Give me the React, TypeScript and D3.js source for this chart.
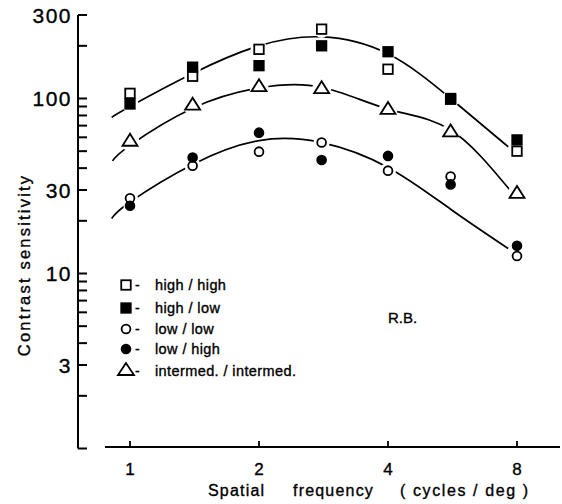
import React from "react";
import * as d3 from "d3";

// ---- data ----
const freqs = [1, 1.4, 2, 2.8, 4, 5.6, 8];
const highHigh = [107, 134, 191, 249, 147, 100, 50];
const highLow = [93, 151, 154, 200, 185, 99, 58];
const lowLow = [26.9, 41.3, 49.7, 56, 38.7, 35.8, 12.6];
const lowHigh = [24.4, 46, 63.8, 44.5, 47, 32.3, 14.4];
const intermed = [56.6, 91, 116, 113, 86, 64, 28.5];

// fitted curves: [frequency, sensitivity]
const curveHigh: [number, number][] = [[0.906, 78], [1, 90], [1.4, 139], [2, 200], [2.8, 225], [4, 180], [5.6, 100], [7.63, 53]];
const curveInter: [number, number][] = [[0.91, 44], [1, 54], [1.4, 88], [2, 115], [2.8, 116], [4, 87], [5.6, 66], [7.7, 30]];
const curveLow: [number, number][] = [[0.906, 20.6], [1, 25.6], [1.4, 42], [2, 57.5], [2.8, 56], [4, 40.4], [5.6, 23.3], [7.63, 13.9]];

const xTicks = [1, 2, 4, 8];
const yMinorTicks = [1, 2, 4, 5, 6, 7, 8, 9, 20, 40, 50, 60, 70, 80, 90, 200];
const yLabelTicks = [3, 10, 30, 100, 300];

const legendItems = [
  { kind: "sqOpen", label: "high / high" },
  { kind: "sqFill", label: "high / low" },
  { kind: "cOpen", label: "low / low" },
  { kind: "cFill", label: "low / high" },
  { kind: "tri", label: "intermed. / intermed." },
];

const W = 562;
const H = 504;
const FONT = "'Liberation Sans', Arial, sans-serif";

function Marker({ kind, x, y, halo = false, big = false }: { kind: string; x: number; y: number; halo?: boolean; big?: boolean }) {
  const sw = 1.8;
  if (kind === "sqOpen" || kind === "sqFill") {
    const s = 9.5;
    if (halo) return <circle cx={x} cy={y} r={8.5} fill="white" />;
    return (
      <rect x={x - s / 2} y={y - s / 2} width={s} height={s}
        fill={kind === "sqFill" ? "black" : "white"} stroke="black" strokeWidth={sw} />
    );
  }
  if (kind === "cOpen" || kind === "cFill") {
    if (halo) return <circle cx={x} cy={y} r={kind === "cFill" ? 6.6 : 8} fill="white" />;
    return <circle cx={x} cy={y} r={4.4} fill={kind === "cFill" ? "black" : "white"} stroke="black" strokeWidth={sw} />;
  }
  // triangle
  const hw = big ? 8 : 7.5;
  const h = big ? 12 : 12;
  if (halo) return <circle cx={x} cy={y} r={9.5} fill="white" />;
  const pts = `${x},${y - (2 * h) / 3} ${x - hw},${y + h / 3} ${x + hw},${y + h / 3}`;
  return <polygon points={pts} fill="white" stroke="black" strokeWidth={sw} strokeLinejoin="miter" />;
}

const textStyle = { stroke: "black", strokeWidth: 0.35 };

export default function App() {
  const x = d3.scaleLog().base(2).domain([1, 8]).range([130, 517]);
  const y = d3.scaleLog().domain([1, 300]).range([448.5, 15]);

  const line = d3
    .line<[number, number]>()
    .x((d) => x(d[0]))
    .y((d) => y(d[1]))
    .curve(d3.curveNatural);

  const series = [
    { kind: "sqOpen", vals: highHigh },
    { kind: "tri", vals: intermed },
    { kind: "cOpen", vals: lowLow },
    { kind: "sqFill", vals: highLow },
    { kind: "cFill", vals: lowHigh },
  ];

  const axisX = 78;
  const xAxisY = 447;

  return (
    <svg width={W} height={H} style={{ position: "absolute", left: 0, top: 0, background: "white" }}>
      <rect x={0} y={0} width={W} height={H} fill="white" />
      {/* curves */}
      {[curveHigh, curveInter, curveLow].map((c, i) => (
        <path key={i} d={line(c) || ""} fill="none" stroke="black" strokeWidth={1.7} />
      ))}
      {/* halos creating gaps in the curves */}
      {series.map((s) =>
        s.vals.map((v, i) => <Marker key={`h-${s.kind}-${i}`} kind={s.kind} x={x(freqs[i])} y={y(v)} halo />)
      )}
      {/* markers */}
      {series.map((s) =>
        s.vals.map((v, i) => <Marker key={`m-${s.kind}-${i}`} kind={s.kind} x={x(freqs[i])} y={y(v)} />)
      )}

      {/* y axis */}
      <line x1={axisX} x2={axisX} y1={y(300)} y2={y(1)} stroke="black" strokeWidth={2} />
      {[...yMinorTicks, ...yLabelTicks].map((t) => (
        <line key={`yt-${t}`} x1={axisX} x2={axisX + 9} y1={y(t)} y2={y(t)} stroke="black" strokeWidth={2} />
      ))}
      {yLabelTicks.map((t) => (
        <text key={`yl-${t}`} x={72} y={y(t)} dy="0.36em" textAnchor="end" fontFamily={FONT}
          fontSize={21} letterSpacing={1.5} style={textStyle}>
          {t}
        </text>
      ))}
      <text transform={`translate(24,265) rotate(-90)`} textAnchor="middle" dy="0.35em" fontFamily={FONT}
        fontSize={16.5} letterSpacing={2.2} style={textStyle}>
        Contrast sensitivity
      </text>

      {/* x axis */}
      <line x1={105} x2={560} y1={xAxisY} y2={xAxisY} stroke="black" strokeWidth={2} />
      {xTicks.map((t) => (
        <line key={`xt-${t}`} x1={x(t)} x2={x(t)} y1={xAxisY} y2={xAxisY - 6} stroke="black" strokeWidth={1.8} />
      ))}
      {xTicks.map((t) => (
        <text key={`xl-${t}`} x={x(t)} y={475} textAnchor="middle" fontFamily={FONT} fontSize={17} style={textStyle}>
          {t}
        </text>
      ))}
      <text x={208} y={496} fontFamily={FONT} fontSize={16} letterSpacing={1.2} style={textStyle}>Spatial</text>
      <text x={293} y={496} fontFamily={FONT} fontSize={16} letterSpacing={1.2} style={textStyle}>frequency</text>
      <text x={400} y={496} fontFamily={FONT} fontSize={16} letterSpacing={1.6} style={textStyle}>( cycles / deg )</text>

      {/* legend */}
      {legendItems.map((it, i) => {
        const ly = [285, 308, 329, 349, 371][i];
        return (
          <g key={it.kind}>
            <Marker kind={it.kind} x={126} y={ly} big />
            <text x={135} y={ly} dy="0.35em" fontFamily={FONT} fontSize={14} style={textStyle}>-</text>
            <text x={155} y={ly} dy="0.35em" fontFamily={FONT} fontSize={14.5} letterSpacing={0.4} style={textStyle}>
              {it.label}
            </text>
          </g>
        );
      })}
      <text x={388} y={323} fontFamily={FONT} fontSize={15} style={textStyle}>R.B.</text>
    </svg>
  );
}
